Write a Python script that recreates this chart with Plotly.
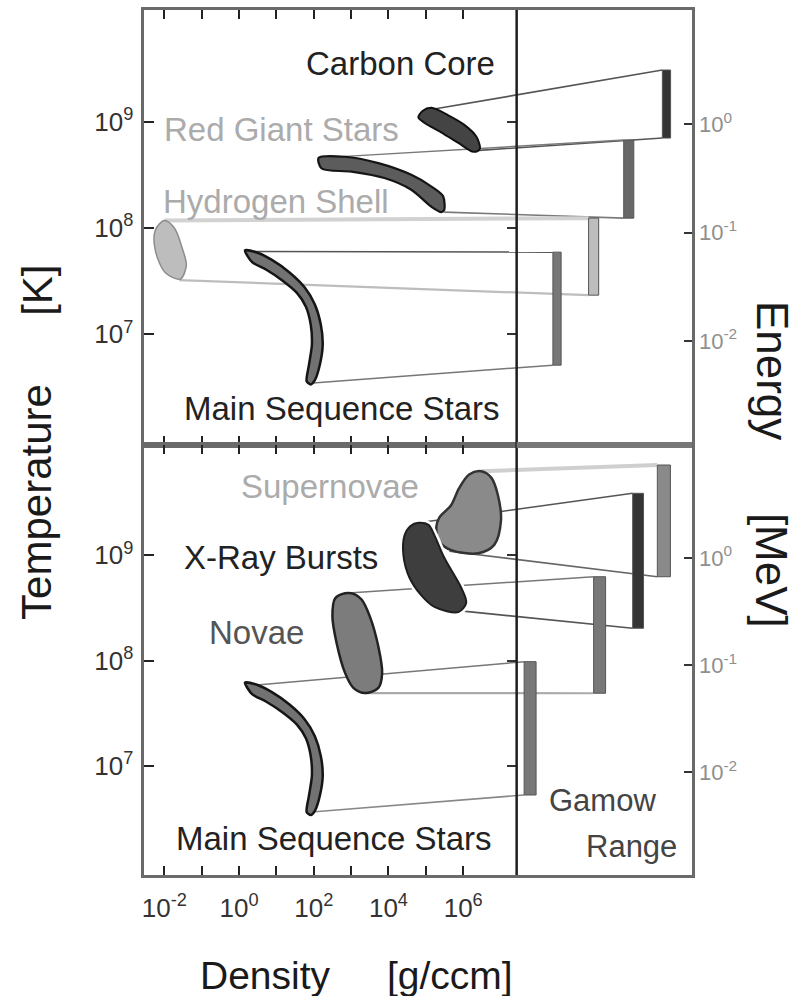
import plotly.graph_objects as go

# ---------------------------------------------------------------------------
# Axis ranges, all in log10 units
# ---------------------------------------------------------------------------
RHO_RANGE = [-2.53, 12.12]   # log10 density [g/ccm]; right part hosts the Gamow column
RHO_DIVIDER = 7.43           # boundary between density plane and Gamow column
T_RANGE = [5.96, 10.05]      # log10 temperature [K]
E_RANGE = [-2.96, 1.055]     # log10 energy [MeV]

RHO_TICKS = [-2, -1, 0, 1, 2, 3, 4, 5, 6]
RHO_LABELS = ["10<sup>-2</sup>", "", "10<sup>0</sup>", "", "10<sup>2</sup>", "",
              "10<sup>4</sup>", "", "10<sup>6</sup>"]
T_TICKS = [7, 8, 9]
T_LABELS = ["10<sup>7</sup>", "10<sup>8</sup>", "10<sup>9</sup>"]
E_TICKS = [-2, -1, 0]
E_LABELS = ["10<sup>-2</sup>", "10<sup>-1</sup>", "10<sup>0</sup>"]

# ---------------------------------------------------------------------------
# Burning sites in the density-temperature plane (log10 rho, log10 T outlines)
# ---------------------------------------------------------------------------
MS_RHO = [0.16, 0.48, 0.88, 1.36, 1.76, 2.03, 2.19, 2.24, 2.16, 2.03, 1.92,
          1.81, 1.87, 1.95, 1.92, 1.79, 1.55, 1.15, 0.72, 0.35, 0.16]
MS_T = [7.79, 7.77, 7.70, 7.58, 7.44, 7.28, 7.09, 6.90, 6.71, 6.57, 6.53,
        6.56, 6.71, 6.90, 7.09, 7.26, 7.39, 7.51, 7.61, 7.68, 7.79]

ENVELOPE_RHO = [-2.00, -1.73, -1.52, -1.41, -1.57, -1.97, -2.24, -2.24, -2.00]
ENVELOPE_T = [8.07, 8.00, 7.81, 7.65, 7.52, 7.58, 7.79, 7.98, 8.07]

H_SHELL_RHO = [2.13, 2.83, 3.73, 4.61, 5.15, 5.46, 5.49, 5.41, 5.15, 4.61,
               3.89, 3.01, 2.21, 2.13]
H_SHELL_T = [8.66, 8.67, 8.61, 8.50, 8.39, 8.30, 8.17, 8.15, 8.20, 8.36,
             8.47, 8.53, 8.56, 8.66]

CARBON_RHO = [4.80, 4.91, 5.15, 5.60, 6.03, 6.35, 6.45, 6.37, 6.24, 5.87,
              5.41, 4.96, 4.80]
CARBON_T = [9.04, 9.10, 9.13, 9.06, 8.97, 8.86, 8.75, 8.72, 8.72, 8.80,
            8.90, 8.99, 9.04]

NOVAE_RHO = [2.84, 2.57, 2.50, 2.61, 2.84, 3.06, 3.37, 3.73, 3.83, 3.73,
             3.50, 3.28, 3.10, 2.84]
NOVAE_T = [8.64, 8.59, 8.42, 8.17, 7.88, 7.74, 7.69, 7.74, 7.88, 8.13,
           8.42, 8.58, 8.63, 8.64]

XRB_RHO = [4.80, 5.07, 5.23, 5.49, 5.95, 6.08, 5.87, 5.23, 4.88, 4.56,
           4.40, 4.43, 4.59, 4.80]
XRB_T = [9.31, 9.29, 9.19, 8.98, 8.69, 8.55, 8.46, 8.51, 8.62, 8.79,
         9.00, 9.19, 9.28, 9.31]

SN_RHO = [6.48, 6.75, 6.93, 7.01, 6.83, 6.40, 5.68, 5.36, 5.28, 5.36,
          5.68, 5.89, 6.16, 6.48]
SN_T = [9.80, 9.74, 9.57, 9.33, 9.10, 9.02, 9.05, 9.13, 9.27, 9.36,
        9.48, 9.64, 9.77, 9.80]

# ---------------------------------------------------------------------------
# Gamow ranges: column position, column width, log10 E bottom / top [MeV]
# ---------------------------------------------------------------------------
TOP_SITES = ["Carbon Core", "Hydrogen Shell", "Red Giant envelope", "Main Sequence"]
TOP_COL = [11.44, 10.43, 9.49, 8.51]
TOP_WIDTH = [0.22, 0.27, 0.27, 0.22]
TOP_E_LO = [-0.127, -0.866, -1.577, -2.223]
TOP_E_HI = [0.501, -0.145, -0.866, -1.180]
# connector anchors on each site (log10 rho, log10 T): hottest / coolest point
TOP_ANCHOR_HI = [(4.91, 9.10), (2.16, 8.66), (-2.00, 8.07), (0.19, 7.78)]
TOP_ANCHOR_LO = [(6.43, 8.73), (5.49, 8.15), (-1.60, 7.51), (1.89, 6.54)]

BOT_SITES = ["Supernovae", "X-Ray Bursts", "Novae", "Main Sequence"]
BOT_COL = [11.37, 10.68, 9.65, 7.79]
BOT_WIDTH = [0.35, 0.29, 0.32, 0.32]
BOT_E_LO = [-0.175, -0.656, -1.263, -2.213]
BOT_E_HI = [0.868, 0.604, -0.175, -0.968]
BOT_ANCHOR_HI = [(6.48, 9.80), (4.80, 9.31), (2.83, 8.64), (0.21, 7.76)]
BOT_ANCHOR_LO = [(5.63, 9.04), (6.00, 8.47), (3.36, 7.69), (1.95, 6.56)]

# ---------------------------------------------------------------------------
FONT = "Liberation Sans, Arial, Helvetica, sans-serif"
W, H = 800, 996

TOP_DOMAIN = [1 - 445 / H, 1 - 10 / H]
BOT_DOMAIN = [1 - 875 / H, 1 - 445 / H]
X_DOMAIN = [142 / W, 691.5 / W]
DIVIDER_PAPER = X_DOMAIN[0] + (RHO_DIVIDER - RHO_RANGE[0]) / (RHO_RANGE[1] - RHO_RANGE[0]) * (X_DOMAIN[1] - X_DOMAIN[0])


def e_to_t(e):
    """Map a log10 energy onto the temperature axis sharing the same panel height."""
    return T_RANGE[0] + (e - E_RANGE[0]) * (T_RANGE[1] - T_RANGE[0]) / (E_RANGE[1] - E_RANGE[0])


fig = go.Figure()

# connector styles per site (colour, width)
TOP_LINK_HI = [("#555555", 1.6), ("#7a7a7a", 1.4), ("#d2d2d2", 4.0), ("#555555", 1.6)]
TOP_LINK_LO = [("#555555", 1.6), ("#7a7a7a", 1.6), ("#bdbdbd", 2.2), ("#777777", 1.5)]
BOT_LINK_HI = [("#cfcfcf", 4.0), ("#555555", 1.6), ("#777777", 1.5), ("#777777", 1.5)]
BOT_LINK_LO = [("#666666", 1.6), ("#555555", 1.6), ("#aaaaaa", 2.2), ("#888888", 1.5)]


def add_links(col, width, elo, ehi, a_hi, a_lo, st_hi, st_lo, xa, ya):
    for i in range(len(col)):
        left = col[i] - width[i] / 2
        for (r0, t0), e, (c, w) in ((a_hi[i], ehi[i], st_hi[i]), (a_lo[i], elo[i], st_lo[i])):
            fig.add_trace(go.Scatter(x=[r0, left], y=[t0, e_to_t(e)], mode="lines",
                                     line=dict(color=c, width=w), xaxis=xa, yaxis=ya,
                                     hoverinfo="skip", showlegend=False))


add_links(TOP_COL, TOP_WIDTH, TOP_E_LO, TOP_E_HI, TOP_ANCHOR_HI, TOP_ANCHOR_LO,
          TOP_LINK_HI, TOP_LINK_LO, "x", "y")
add_links(BOT_COL, BOT_WIDTH, BOT_E_LO, BOT_E_HI, BOT_ANCHOR_HI, BOT_ANCHOR_LO,
          BOT_LINK_HI, BOT_LINK_LO, "x2", "y2")


def blob(rho, t, fill, edge, w, xa, ya, smooth=0.9):
    fig.add_trace(go.Scatter(x=rho, y=t, mode="lines", fill="toself", fillcolor=fill,
                             line=dict(color=edge, width=w, shape="spline", smoothing=smooth),
                             xaxis=xa, yaxis=ya, hoverinfo="skip", showlegend=False))


# upper panel: stellar evolution stages
blob(ENVELOPE_RHO, ENVELOPE_T, "#bdbdbd", "#8c8c8c", 1.5, "x", "y")
blob(MS_RHO, MS_T, "#727272", "#151515", 2.5, "x", "y", 0.7)
blob(H_SHELL_RHO, H_SHELL_T, "#5c5c5c", "#151515", 2.2, "x", "y", 0.8)
blob(CARBON_RHO, CARBON_T, "#444444", "#111111", 2.0, "x", "y", 0.8)

# lower panel: explosive sites
blob(MS_RHO, MS_T, "#727272", "#151515", 2.5, "x2", "y2", 0.7)
blob(NOVAE_RHO, NOVAE_T, "#7c7c7c", "#222222", 2.5, "x2", "y2")
blob(SN_RHO, SN_T, "#8a8a8a", "#333333", 2.5, "x2", "y2")
fig.add_trace(go.Scatter(x=XRB_RHO, y=XRB_T, mode="lines",
                         line=dict(color="white", width=7, shape="spline", smoothing=0.9),
                         xaxis="x2", yaxis="y2", hoverinfo="skip", showlegend=False))
blob(XRB_RHO, XRB_T, "#3e3e3e", "#1e1e1e", 2.0, "x2", "y2")

# Gamow-range bars on the energy axes
TOP_BAR_COL = ["#353535", "#676767", "#bdbdbd", "#777777"]
BOT_BAR_COL = ["#8a8a8a", "#353535", "#787878", "#787878"]
for col, width, elo, ehi, colors, xa, ya in (
        (TOP_COL, TOP_WIDTH, TOP_E_LO, TOP_E_HI, TOP_BAR_COL, "x", "y3"),
        (BOT_COL, BOT_WIDTH, BOT_E_LO, BOT_E_HI, BOT_BAR_COL, "x2", "y4")):
    fig.add_trace(go.Bar(x=col, base=elo, y=[h - l for h, l in zip(ehi, elo)], width=width,
                         marker=dict(color=colors, line=dict(color="#555555", width=1)),
                         xaxis=xa, yaxis=ya, hoverinfo="skip", showlegend=False))

# invisible anchors so the divider tick axes get drawn
for ya, xa in (("y5", "x"), ("y6", "x2")):
    fig.add_trace(go.Scatter(x=[RHO_RANGE[0]], y=[T_RANGE[0]], mode="markers",
                             marker=dict(opacity=0), xaxis=xa, yaxis=ya,
                             hoverinfo="skip", showlegend=False))

FRAME = "#6a6a6a"
xcommon = dict(range=RHO_RANGE, domain=X_DOMAIN, tickmode="array", tickvals=RHO_TICKS,
               ticktext=RHO_LABELS, ticks="inside", ticklen=9, tickwidth=1.6,
               tickcolor="#222222", showline=True, linecolor=FRAME, linewidth=3,
               mirror="ticks", showgrid=False, zeroline=False, fixedrange=True)
ycommon = dict(range=T_RANGE, tickmode="array", tickvals=T_TICKS, ticktext=T_LABELS,
               ticks="inside", ticklen=10, tickwidth=2, tickcolor="#222222",
               showline=True, linecolor=FRAME, linewidth=3, mirror=True,
               showgrid=False, zeroline=False,
               tickfont=dict(family=FONT, size=26, color="#333333"), ticklabelstandoff=3)
ecommon = dict(range=E_RANGE, side="right", tickmode="array", tickvals=E_TICKS,
               ticktext=E_LABELS, ticks="inside", ticklen=8, tickwidth=1.6,
               tickcolor="#333333", showline=False, showgrid=False, zeroline=False,
               tickfont=dict(family=FONT, size=22, color="#8f8f8f"), ticklabelstandoff=6)
dcommon = dict(range=T_RANGE, tickmode="array", tickvals=T_TICKS, ticks="outside",
               ticklen=10, tickwidth=1.6, tickcolor="#333333", showticklabels=False,
               showline=False, showgrid=False, zeroline=False, anchor="free",
               position=DIVIDER_PAPER, side="left")

fig.update_layout(
    width=W, height=H, margin=dict(l=0, r=0, t=0, b=0),
    paper_bgcolor="white", plot_bgcolor="white", barmode="overlay", showlegend=False,
    xaxis=dict(xcommon, anchor="y", showticklabels=False),
    xaxis2=dict(xcommon, anchor="y2", matches="x", showticklabels=True,
                tickfont=dict(family=FONT, size=26, color="#333333"), ticklabelstandoff=8),
    yaxis=dict(ycommon, domain=TOP_DOMAIN, anchor="x"),
    yaxis2=dict(ycommon, domain=BOT_DOMAIN, anchor="x2"),
    yaxis3=dict(ecommon, overlaying="y", anchor="x"),
    yaxis4=dict(ecommon, overlaying="y2", anchor="x2"),
    yaxis5=dict(dcommon, overlaying="y"),
    yaxis6=dict(dcommon, overlaying="y2"),
)

# column divider and the heavy rule across the Gamow column
fig.add_shape(type="line", xref="x", yref="paper", x0=RHO_DIVIDER, x1=RHO_DIVIDER,
              y0=BOT_DOMAIN[0], y1=TOP_DOMAIN[1], line=dict(color="#1e1e1e", width=2.5))
fig.add_shape(type="line", xref="x", yref="paper", x0=RHO_DIVIDER, x1=RHO_RANGE[1],
              y0=TOP_DOMAIN[0], y1=TOP_DOMAIN[0], line=dict(color="#777777", width=6))


def label(text, x, y, size=33, color="#222222", angle=0):
    fig.add_annotation(text=text, x=x / W, y=1 - y / H, xref="paper", yref="paper",
                       showarrow=False, xanchor="center", yanchor="middle", textangle=angle,
                       font=dict(family=FONT, size=size, color=color))


label("Carbon Core", 399, 63)
label("Red Giant Stars", 280, 129, color="#ababab")
label("Hydrogen Shell", 274, 202, color="#ababab")
label("Main Sequence Stars", 340, 408)
label("Supernovae", 328, 486, color="#ababab")
label("X-Ray Bursts", 279, 557)
label("Novae", 254, 632, color="#555555")
label("Main Sequence Stars", 332, 838)
label("Gamow", 602, 800, size=31, color="#444444")
label("Range", 631, 846, size=31, color="#444444")

label("Temperature", 33, 502, size=42, color="#1a1a1a", angle=-90)
label("[K]", 34, 290, size=42, color="#1a1a1a", angle=-90)
label("Energy", 772, 370, size=44, color="#1a1a1a", angle=90)
label("[MeV]", 772, 570, size=44, color="#1a1a1a", angle=90)
label("Density", 263, 975, size=39, color="#1a1a1a")
label("[g/ccm]", 449, 975, size=39, color="#1a1a1a")

fig.write_html("out.html")
